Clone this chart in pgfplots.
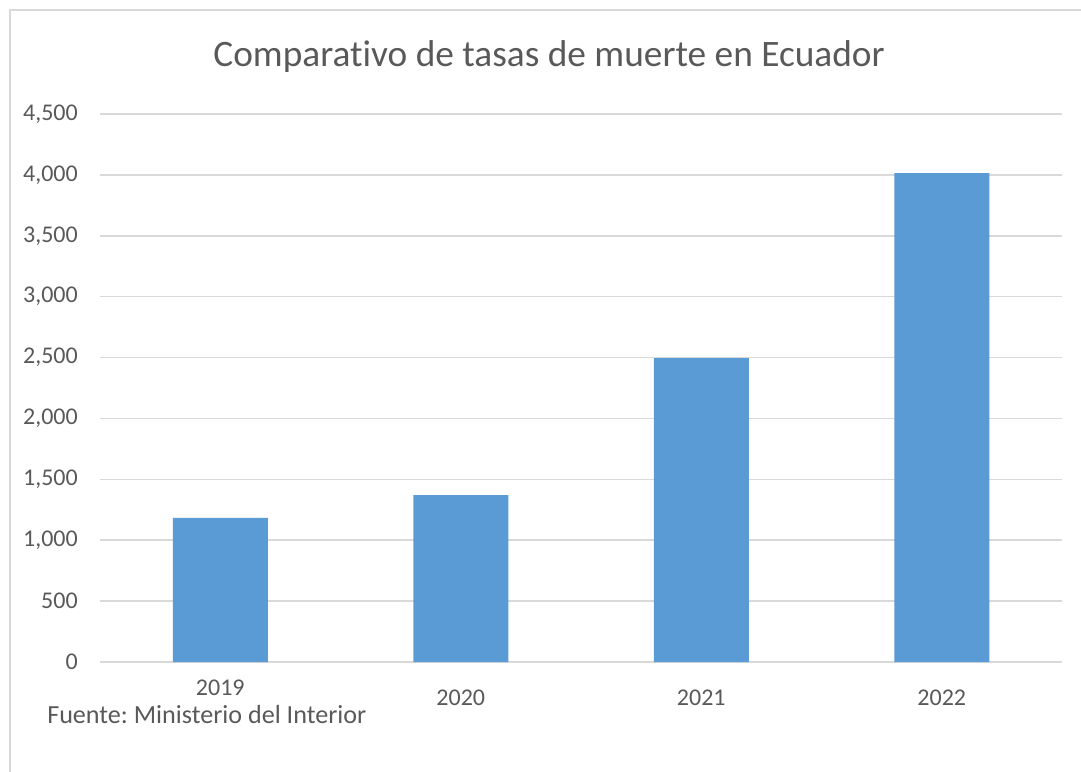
\documentclass[border=0pt]{standalone}
\usepackage{fontspec}
\setmainfont{Carlito}[Ligatures=NoCommon]
\usepackage{pgfplots}
\pgfplotsset{compat=1.18}
\definecolor{barblue}{HTML}{5B9BD5}
\definecolor{txtgray}{HTML}{595959}
\definecolor{gridgray}{HTML}{D9D9D9}
\frenchspacing
\begin{document}
\begin{tikzpicture}
\useasboundingbox (0,0) rectangle (810.75pt,578.25pt);
\draw[gridgray, line width=1.2pt] (7.5pt,-10pt) -- (7.5pt,570.75pt) -- (830pt,570.75pt);
\node[txtgray, font=\fontsize{28}{32}\selectfont, anchor=center] at (411.75pt,536pt) {Comparativo de tasas de muerte en Ecuador};
\begin{axis}[
  at={(75pt,81.75pt)}, anchor=south west,
  scale only axis, width=721.5pt, height=411pt,
  xmin=-0.5, xmax=3.5, ymin=0, ymax=4500,
  ytick={0,500,...,4500},
  xtick={0,1,2,3},
  xticklabels={\raisebox{7.5pt}{2019},2020,2021,2022},
  major tick length=0pt,
  axis line style={draw=none},
  ymajorgrids, grid style={gridgray, line width=1.1pt},
  ticklabel style={txtgray, font=\fontsize{18}{21}\selectfont, inner sep=0pt},
  yticklabel style={anchor=east, xshift=-16.5pt},
  xticklabel style={anchor=base, yshift=-32.25pt},
  /pgf/number format/assume math mode=true,
  /pgf/number format/.cd, 1000 sep={,},
]
\addplot[ybar, bar width=0.395, fill=barblue, draw=none] coordinates {
  (0,1183) (1,1371) (2,2496) (3,4015)
};
\end{axis}
\node[txtgray, font=\fontsize{19.6}{23}\selectfont, anchor=base west, inner sep=0pt] at (35.25pt,36pt) {Fuente: Ministerio del Interior};
\end{tikzpicture}
\end{document}
